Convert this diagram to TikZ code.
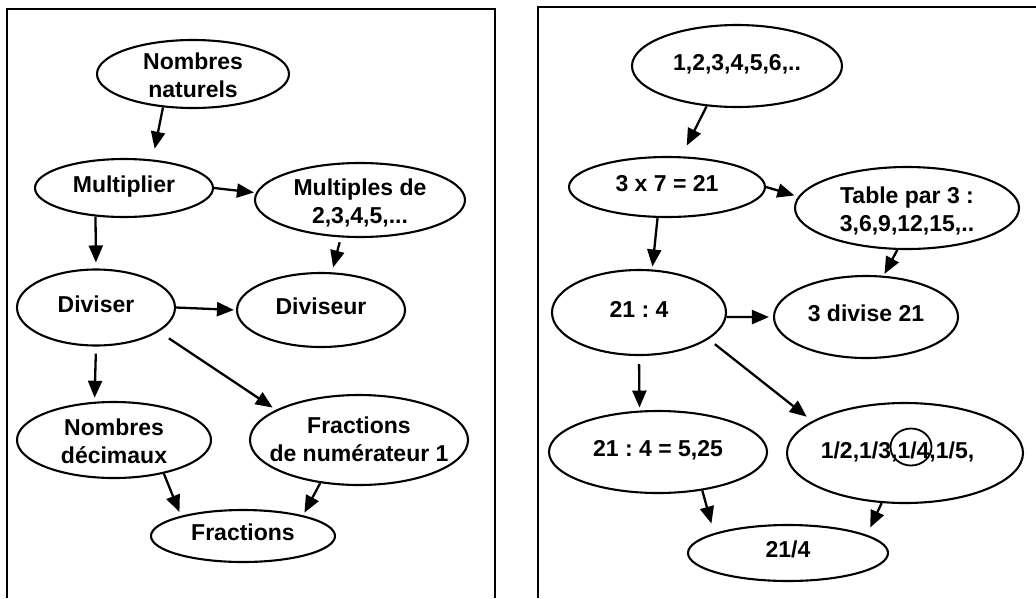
\documentclass[tikz,border=0pt]{standalone}
\usepackage{fontspec}
\setmainfont{Liberation Sans}
\usetikzlibrary{arrows.meta,shapes.geometric,calc}
\newcommand{\etiq}[2][0pt]{\makebox[0pt]{\raisebox{#1}{\begin{tabular}{@{}c@{}}#2\end{tabular}}}}
\frenchspacing

\begin{document}
\begin{tikzpicture}[x=1pt, y=-1pt, >={Triangle[length=17pt,width=14pt]},
  bulle/.style={ellipse, draw, line width=2.1pt, inner sep=0pt, text height=10.8pt, text depth=0pt,
    font=\fontsize{23}{28}\selectfont\bfseries},
  fleche/.style={->, line width=2.3pt, shorten >=2pt}]
  \useasboundingbox (0,0) rectangle (1036,598);
  % frames, both cut at the bottom
  \draw[line width=2.4pt] (7,598) -- (7,9) -- (495,9) -- (495,598);
  \draw[line width=2.4pt] (538,598) -- (538,7) -- (1036,7);
  % left panel: the notions
  \node[bulle, minimum width=192, minimum height=68] (nat) at (193,74) {\etiq[-5pt]{Nombres\\naturels}};
  \node[bulle, minimum width=178, minimum height=58] (mult) at (124,188) {\etiq{Multiplier}};
  \node[bulle, minimum width=210, minimum height=74] (mults) at (360,200) {\etiq[-5pt]{Multiples de\\2,3,4,5,...}};
  \node[bulle, minimum width=158, minimum height=76] (div) at (96,307.5) {\etiq{Diviser}};
  \node[bulle, minimum width=168, minimum height=74] (divr) at (321,310) {\etiq{Diviseur}};
  \node[bulle, minimum width=194, minimum height=76] (dec) at (114,440) {\etiq[-5pt]{Nombres\\décimaux}};
  \node[bulle, minimum width=218, minimum height=90] (fnum) at (359,440) {\etiq[-3pt]{Fractions\\de numérateur 1}};
  \node[bulle, minimum width=184, minimum height=52] (frac) at (243,536) {\etiq{Fractions}};
  \draw[fleche, shorten >=11pt] (nat.228) -- (mult.45);
  \draw[fleche] (mult.east) -- (mults.176);
  \draw[fleche, shorten >=6pt] (mult.225) -- (div.north);
  \draw[fleche, shorten <=5pt, shorten >=5pt] (mults.243) -- (divr.74);
  \draw[fleche] (div.east) -- (divr.west);
  \draw[fleche, shorten <=12pt, shorten >=4pt] (div.339) -- (fnum.160);
  \draw[fleche, shorten <=7pt, shorten >=4pt] (div.south) -- (dec.117);
  \draw[fleche, shorten >=4pt] (dec.326) -- (frac.162);
  \draw[fleche, shorten >=3pt] (fnum.228) -- (frac.19);
  % right panel: the example with 21
  \node[bulle, minimum width=210, minimum height=82] (suite) at (737,66) {\etiq{1,2,3,4,5,6,..}};
  \node[bulle, minimum width=196, minimum height=60] (prod) at (667,187) {\etiq{3 x 7 = 21}};
  \node[bulle, minimum width=224, minimum height=82] (table) at (907,208) {\etiq[-5pt]{Table par 3 :\\3,6,9,12,15,..}};
  \node[bulle, minimum width=174, minimum height=85] (quot) at (639,312.5) {\etiq{21 : 4}};
  \node[bulle, minimum width=184, minimum height=82] (divi) at (866,317) {\etiq{3 divise 21}};
  \node[bulle, minimum width=218, minimum height=82] (dec2) at (658,452) {\etiq{21 : 4 = 5,25}};
  \node[bulle, minimum width=236, minimum height=100] (liste) at (905,453) {\makebox[0pt]{\kern-15pt 1/2,1/3,1/4,1/5,}};
  \node[ellipse, draw, line width=1.8pt, minimum width=41, minimum height=37] (quart) at ($(liste.center)+(6,-6)$) {};
  \node[bulle, minimum width=200, minimum height=56] (frac2) at (788,553) {\etiq{21/4}};
  \draw[fleche, shorten >=12pt] (suite.233) -- (prod.65);
  \draw[fleche, shorten >=4pt] (prod.east) -- (table.174);
  \draw[fleche, shorten >=3pt] (prod.253) -- (quot.73);
  \draw[fleche] (table.257) -- (divi.67);
  \draw[fleche, shorten >=4pt] (quot.357) -- (divi.west);
  \draw[fleche, shorten <=8pt, shorten >=7pt] (quot.339) -- (liste.161);
  \draw[fleche, shorten <=8pt, shorten >=3pt] (quot.south) -- (dec2.114);
  \draw[fleche, shorten >=10pt] (dec2.319) -- (frac2.165);
  \draw[fleche, shorten >=8pt] (liste.245) -- (frac2.13);
\end{tikzpicture}
\end{document}
